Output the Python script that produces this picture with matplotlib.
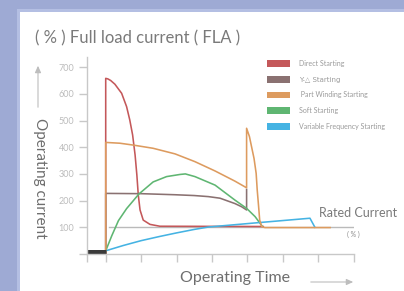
import matplotlib.pyplot as plt
from matplotlib.patches import Rectangle, Patch

plt.rcParams['font.family'] = ['Lato', 'Noto Sans CJK SC', 'DejaVu Sans']

# x: operating time (tick units), y: % of full load current
direct_x = [0, 0, 0.06, 0.14, 0.26, 0.45, 0.59, 0.68, 0.76, 0.83, 0.88, 0.92, 0.97, 1.06, 1.25, 1.53, 4.45]
direct_y = [0, 658, 656, 650, 636, 602, 552, 502, 446, 371, 296, 221, 165, 127, 111, 104, 103]

ydelta_x = [0, 0, 1.0, 1.96, 2.5, 2.9, 3.23, 3.46, 3.65, 3.84, 3.98, 3.98]
ydelta_y = [0, 227, 226, 222, 219, 215, 209, 198, 189, 177, 165, 242]

part_x = [0, 0, 0.4, 0.78, 1.34, 1.96, 2.52, 3.09, 3.65, 3.98, 3.98, 4.06, 4.12, 4.19,
          4.25, 4.28, 4.32, 4.35, 4.41, 4.5, 6.34]
part_y = [0, 418, 415, 408, 396, 375, 346, 311, 273, 248, 471, 440, 402, 358,
          302, 240, 177, 127, 102, 99, 99]

soft_x = [0, 0.17, 0.36, 0.59, 0.94, 1.34, 1.72, 2.1, 2.25, 2.52, 3.09, 3.65, 3.98, 4.22, 4.36, 4.42]
soft_y = [12, 68, 125, 170, 225, 270, 290, 298, 300, 290, 258, 202, 171, 140, 115, 104]

vfd_x = [0, 0.5, 1.0, 1.5, 2.0, 2.5, 2.9, 3.5, 4.36, 5.77, 5.91]
vfd_y = [12, 32, 50, 65, 79, 92, 101, 108, 118, 134, 100]

rated_x = [0.1, 7.0]
rated_y = [100, 100]

bar_x = [-0.537, 0]
bar_y = [6, 6]

names = ['Direct Starting', 'Y-△ Starting', ' Part Winding Starting',
         'Soft Starting', 'Variable Frequency Starting']
colors = ['#c4585a', '#8a7171', '#dd9b5f', '#5fb672', '#45b3e3']

yticks = [0, 100, 200, 300, 400, 500, 600, 700]
xticks = [-0.537, 0, 1, 2, 3, 4, 5, 6, 7]

W, H = 404, 291
fig = plt.figure(figsize=(W / 100, H / 100), dpi=100)
fig.patch.set_facecolor('#9eaad4')
fig.add_artist(Rectangle((17 / W, 0), 1, 1 - 9 / H, transform=fig.transFigure,
                         facecolor='#b4bfe3', edgecolor='none', zorder=-2))
fig.add_artist(Rectangle((19.5 / W, 0), 1, 1 - 12 / H, transform=fig.transFigure,
                         facecolor='white', edgecolor='none', zorder=-1))

ax = fig.add_axes([86.7 / W, 37 / H, (353.5 - 86.7) / W, 197 / H])
ax.patch.set_visible(False)
ax.set_xlim(-0.537, 7.0)
ax.set_ylim(0, 738)
for s in ['top', 'right']:
    ax.spines[s].set_visible(False)
for s in ['left', 'bottom']:
    ax.spines[s].set_color('#c8c8c8')
    ax.spines[s].set_linewidth(1)
ax.set_yticks(yticks)
ax.set_yticklabels([''] + [str(v) for v in yticks[1:]])
ax.set_xticks(xticks)
ax.set_xticklabels([])
ax.tick_params(length=5.5, width=1, color='#c8c8c8', labelcolor='#bcbcbc',
               labelsize=6.5, pad=3.5)

ax.plot(rated_x, rated_y, color='#bababa', lw=1)
lw = 1.15
ax.plot(direct_x, direct_y, color=colors[0], lw=lw)
ax.plot(ydelta_x, ydelta_y, color=colors[1], lw=lw)
ax.plot(soft_x, soft_y, color=colors[3], lw=lw)
ax.plot(vfd_x, vfd_y, color=colors[4], lw=lw)
ax.plot(part_x, part_y, color=colors[2], lw=lw)
ax.plot(bar_x, bar_y, color='#3a3a3a', lw=3.6, solid_capstyle='butt', clip_on=False)

handles = [Patch(facecolor=c, edgecolor='none') for c in colors]
leg = fig.legend(handles, names, loc='upper left', bbox_to_anchor=(267 / W, 1 - 60 / H),
                 frameon=False, fontsize=5, handlelength=3.3, handleheight=1.15,
                 handletextpad=1.3, labelspacing=1.25, borderpad=0, borderaxespad=0,
                 labelcolor='#9a9a9a')
leg.get_texts()[1].set_family(['DejaVu Sans'])

fig.text(35 / W, 1 - 38 / H, '( % ) Full load current ( FLA )', fontsize=12,
         color='#7a7a7a', ha='left', va='center')
fig.text(40 / W, 1 - 178 / H, 'Operating current', fontsize=11, rotation=270,
         color='#6e6e6e', ha='center', va='center')
fig.text(235 / W, 1 - 278 / H, 'Operating Time', fontsize=11.5,
         color='#6e6e6e', ha='center', va='center')
fig.text(319 / W, 1 - 213 / H, 'Rated Current', fontsize=9,
         color='#7a7a7a', ha='left', va='center')
fig.text(353.5 / W, 1 - 234 / H, '( % )', fontsize=5,
         color='#8a8a8a', ha='center', va='center')

arrow = dict(arrowstyle='-|>,head_length=0.4,head_width=0.18', color='#bdbdbd', lw=0.8)
fig.add_artist(plt.Annotation('', xy=(38 / W, 1 - 63 / H), xytext=(38 / W, 1 - 110 / H),
                              xycoords='figure fraction', arrowprops=arrow))
fig.add_artist(plt.Annotation('', xy=(356 / W, 1 - 282 / H), xytext=(308 / W, 1 - 282 / H),
                              xycoords='figure fraction', arrowprops=arrow))

fig.savefig('out.png', dpi=100)
